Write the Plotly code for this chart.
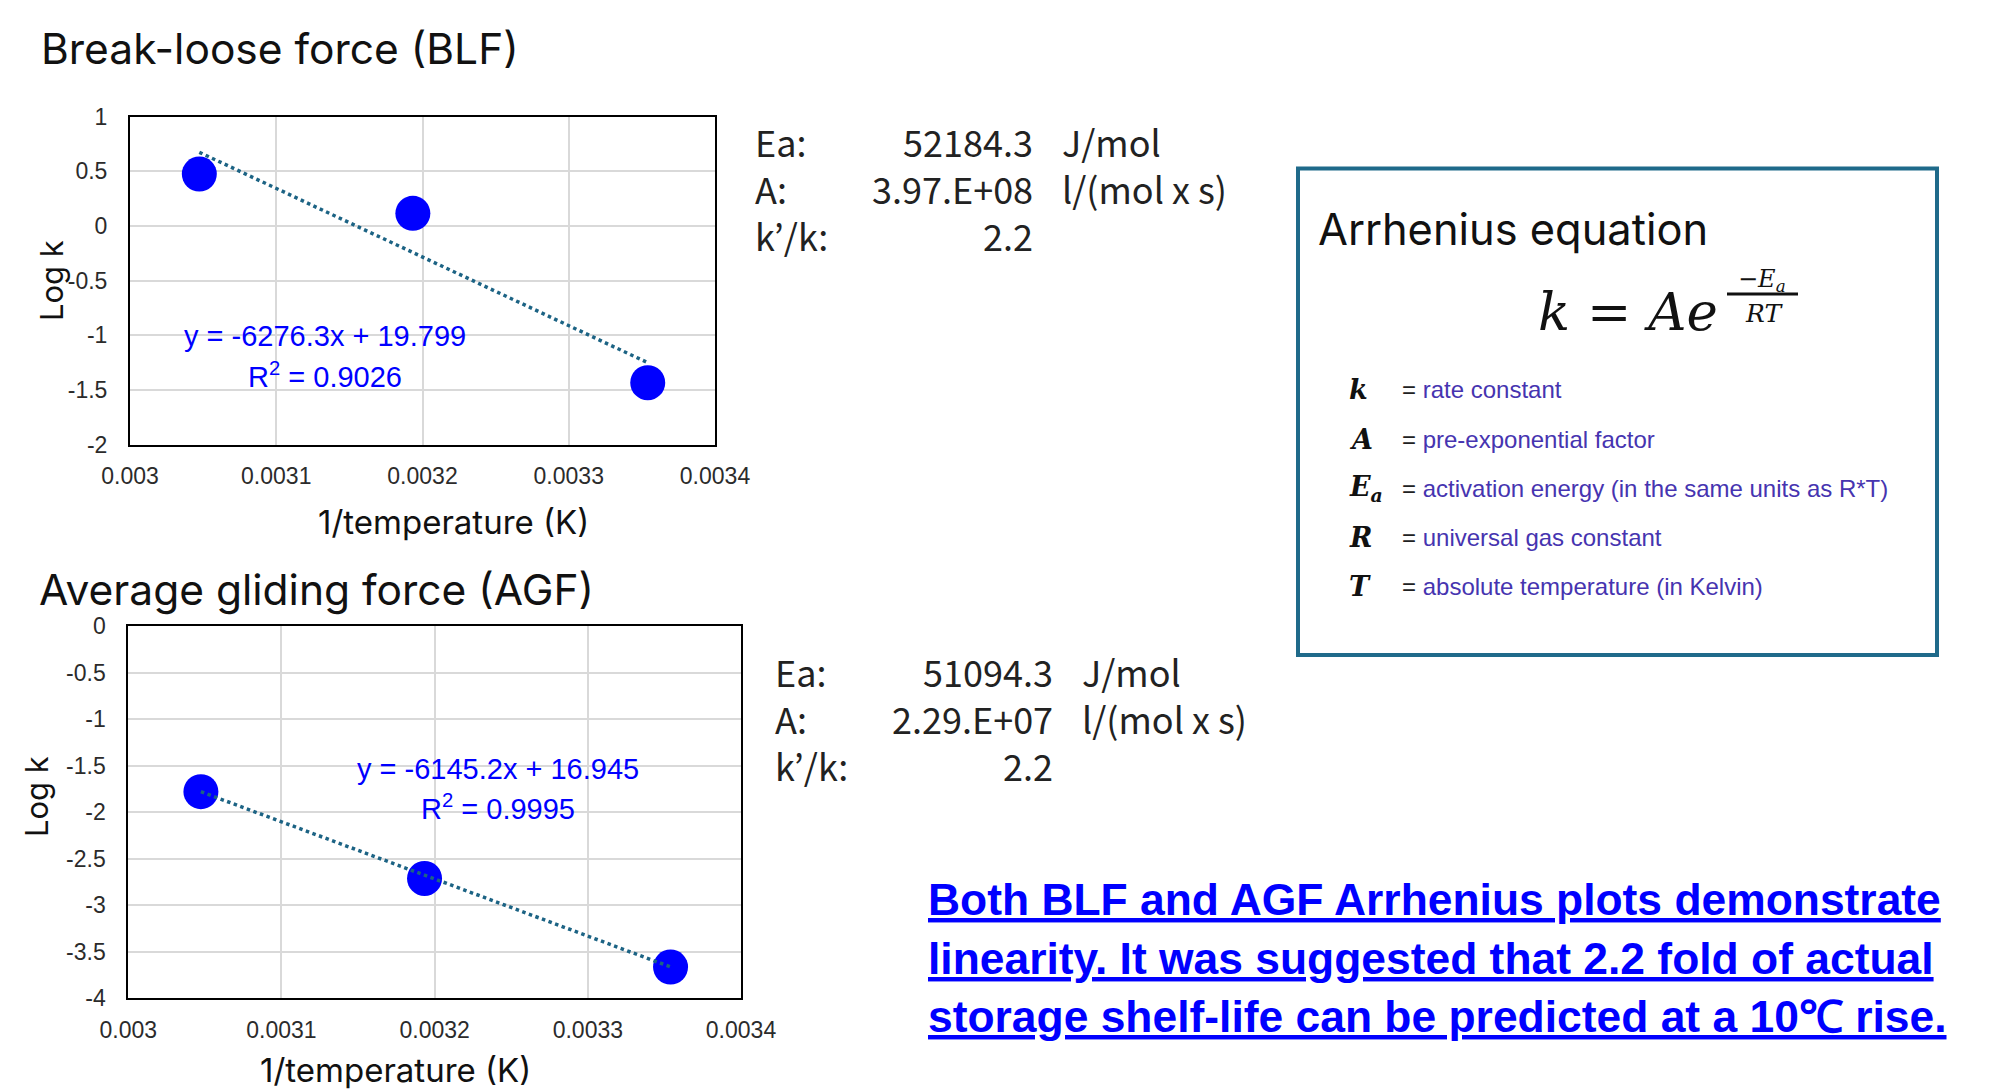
import plotly.graph_objects as go

W, H = 1989, 1090

# ---------------- data ----------------
inv_temp = [0.0030474, 0.0031934, 0.0033540]          # 1/T (1/K)
blf_logk = [0.474, 0.114, -1.435]
agf_logk = [-1.781, -2.715, -3.667]
blf_fit = {"slope": -6276.3, "intercept": 19.799, "r2": "0.9026"}
agf_fit = {"slope": -6145.2, "intercept": 16.945, "r2": "0.9995"}

x_tickvals = [0.003, 0.0031, 0.0032, 0.0033, 0.0034]
x_ticktext = ["0.003", "0.0031", "0.0032", "0.0033", "0.0034"]
blf_yticks = [1, 0.5, 0, -0.5, -1, -1.5, -2]
blf_yticktext = ["1", "0.5", "0", "-0.5", "-1", "-1.5", "-2"]
agf_yticks = [0, -0.5, -1, -1.5, -2, -2.5, -3, -3.5, -4]
agf_yticktext = ["0", "-0.5", "-1", "-1.5", "-2", "-2.5", "-3", "-3.5", "-4"]

stat_labels = ["Ea:", "A:", "k’/k:"]
stat_units = ["J/mol", "l/(mol x s)", ""]
blf_stats = ["52184.3", "3.97.E+08", "2.2"]
agf_stats = ["51094.3", "2.29.E+07", "2.2"]

legend_symbols = ["k", "A", "E<sub>a</sub>", "R", "T"]
legend_desc = ["rate constant", "pre-exponential factor",
               "activation energy (in the same units as R*T)",
               "universal gas constant", "absolute temperature (in Kelvin)"]

conclusion = ["Both BLF and AGF Arrhenius plots demonstrate",
              "linearity. It was suggested that 2.2 fold of actual",
              "storage shelf-life can be predicted at a 10℃ rise."]

# ---------------- helpers ----------------
def px(x):
    return x / W

def py(y):
    return 1 - y / H

TITLE_FONT = "Inter, Lato, sans-serif"
TICK_FONT = "Liberation Sans, Arial, sans-serif"
STAT_FONT = "Noto Sans CJK JP, Noto Sans, sans-serif"
SERIF = "DejaVu Serif, Liberation Serif, serif"

fig = go.Figure()

for (ys, fit, xa, ya) in [(blf_logk, blf_fit, "x", "y"), (agf_logk, agf_fit, "x2", "y2")]:
    xe = [min(inv_temp), max(inv_temp)]
    ye = [fit["slope"] * v + fit["intercept"] for v in xe]
    fig.add_trace(go.Scatter(x=inv_temp, y=ys, mode="markers", xaxis=xa, yaxis=ya,
                             marker=dict(size=35, color="#0000FF", line=dict(width=0)),
                             showlegend=False, hoverinfo="x+y"))
    fig.add_trace(go.Scatter(x=xe, y=ye, mode="lines", xaxis=xa, yaxis=ya,
                             line=dict(color="#1c6384", width=3.5, dash="dot"),
                             showlegend=False, hoverinfo="skip"))

axis_common = dict(showgrid=True, gridcolor="#d9d9d9", gridwidth=2, zeroline=False,
                   showline=True, mirror=True, linecolor="black", linewidth=2,
                   ticks="", automargin=False,
                   tickfont=dict(family=TICK_FONT, size=23, color="#2b2b2b"))

fig.update_layout(
    template="none",
    width=W, height=H, margin=dict(l=0, r=0, t=0, b=0, pad=0, autoexpand=False),
    paper_bgcolor="white", plot_bgcolor="white", showlegend=False,
    xaxis=dict(domain=[px(130), px(715)], range=[0.003, 0.0034], anchor="y",
               tickvals=x_tickvals, ticktext=x_ticktext, ticklabelstandoff=10, **axis_common),
    yaxis=dict(domain=[py(444.5), py(116.5)], range=[-2, 1], anchor="x",
               tickvals=blf_yticks, ticktext=blf_yticktext, ticklabelstandoff=16, **axis_common),
    xaxis2=dict(domain=[px(128.3), px(741)], range=[0.003, 0.0034], anchor="y2",
                tickvals=x_tickvals, ticktext=x_ticktext, ticklabelstandoff=10, **axis_common),
    yaxis2=dict(domain=[py(998), py(626)], range=[-4, 0], anchor="x2",
                tickvals=agf_yticks, ticktext=agf_yticktext, ticklabelstandoff=16, **axis_common),
)

ann = []

def text(x, y, s, size, family, color="black", xanchor="left", yanchor="middle", textangle=0):
    ann.append(dict(x=px(x), y=py(y), xref="paper", yref="paper", text=s, showarrow=False,
                    xanchor=xanchor, yanchor=yanchor, textangle=textangle,
                    font=dict(size=size, family=family, color=color)))

# titles
text(39, 49, "Break-loose force (BLF)", 42.5, TITLE_FONT, "#111111")
text(37, 589, "Average gliding force (AGF)", 42.5, TITLE_FONT, "#111111")

# axis titles
text(453, 522, "1/temperature (K)", 33, TITLE_FONT, "#111111", xanchor="center")
text(51, 281, "Log k", 31, TITLE_FONT, "#111111", xanchor="center", textangle=-90)
text(395, 1070, "1/temperature (K)", 33, TITLE_FONT, "#111111", xanchor="center")
text(36, 797, "Log k", 31, TITLE_FONT, "#111111", xanchor="center", textangle=-90)

# trendline equations
for fit, cx, y1, y2 in [(blf_fit, 325, 336, 375), (agf_fit, 498, 769, 807)]:
    text(cx, y1, f"y = {fit['slope']}x + {fit['intercept']}", 29, TICK_FONT, "#0000FF", xanchor="center")
    text(cx, y2, f"R<sup>2</sup> = {fit['r2']}", 29, TICK_FONT, "#0000FF", xanchor="center")

# stats blocks
for stats, lx, nx, ux, rows in [(blf_stats, 753, 1035, 1060, [141, 188, 235]),
                                (agf_stats, 773, 1055, 1080, [671, 718, 765])]:
    for lab, val, unit, ry in zip(stat_labels, stats, stat_units, rows):
        text(lx, ry, lab, 36, STAT_FONT, "#222222")
        text(nx, ry, val, 36, STAT_FONT, "#222222", xanchor="right")
        if unit:
            text(ux, ry, unit, 36, STAT_FONT, "#222222")

# Arrhenius box
text(1316, 229, "Arrhenius equation", 43.4, TITLE_FONT, "#111111")
text(1536, 311, "<i>k</i> = <i>Ae</i>", 53, SERIF, "#111111")
text(1762, 280, "−<i>E</i><sub><i>a</i></sub>", 24, SERIF, "#111111", xanchor="center")
text(1764, 313, "<i>RT</i>", 25, SERIF, "#111111", xanchor="center")

rows_y = [389, 439, 488, 537, 587]
for sym, desc, ry in zip(legend_symbols, legend_desc, rows_y):
    text(1347, ry, f"<b><i>{sym}</i></b>", 27, SERIF, "#111111")
    text(1400, ry, f"<span style='color:#202122'>=</span> {desc}", 24, TICK_FONT, "#4634b0")

# conclusion
for line, ly in zip(conclusion, [899, 958, 1016]):
    text(926, ly, f"<b><u>{line}</u></b>", 44.4, TICK_FONT, "#0000FF")

fig.update_layout(annotations=ann, shapes=[
    dict(type="rect", xref="paper", yref="paper", x0=px(1298), x1=px(1937), y0=py(655), y1=py(168.5),
         line=dict(color="#1f6a8a", width=4)),
    dict(type="line", xref="paper", yref="paper", x0=px(1727), x1=px(1798), y0=py(294), y1=py(294),
         line=dict(color="#111111", width=3)),
])

fig.write_html("out.html")
